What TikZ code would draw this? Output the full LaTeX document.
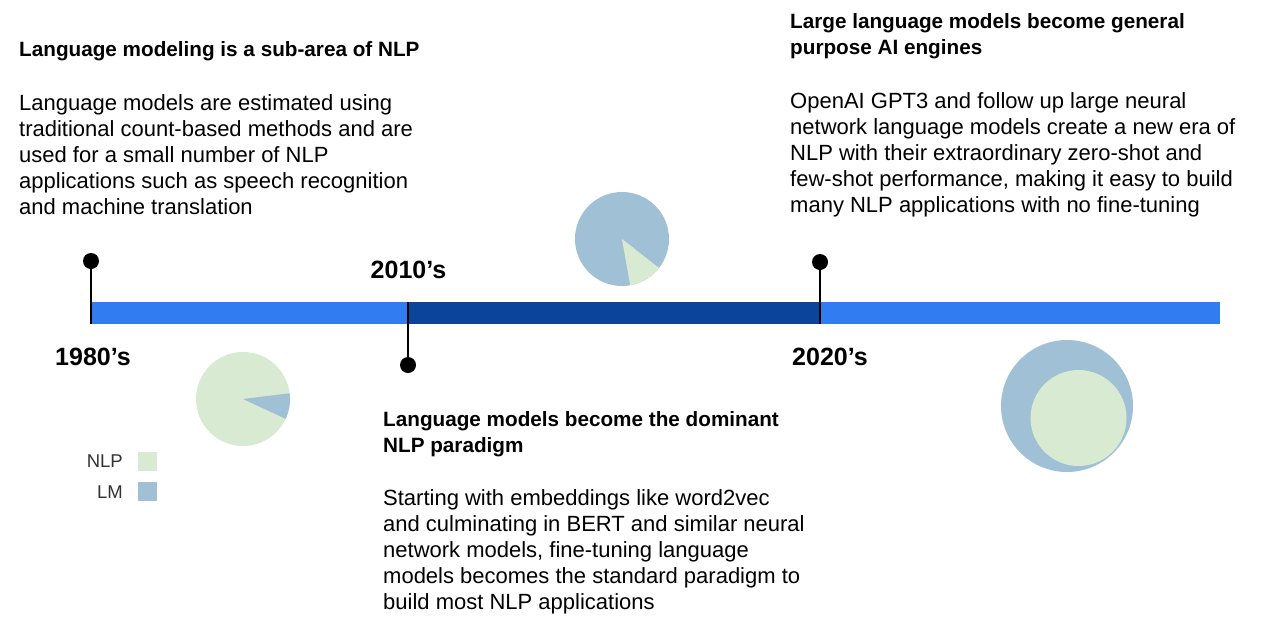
\documentclass[tikz,border=0pt]{standalone}
\usepackage{fontspec}
\setmainfont{Liberation Sans}
\definecolor{nlpc}{HTML}{D9EAD3}
\definecolor{lmc}{HTML}{9FC0D5}
\definecolor{barlight}{HTML}{317CF0}
\definecolor{bardark}{HTML}{0B449B}
\definecolor{legtext}{HTML}{333333}
\begin{document}
\begin{tikzpicture}[x=1pt,y=-1pt,
  titletext/.style={anchor=north west, inner sep=0, align=left, font=\fontsize{20.7}{26}\selectfont\bfseries},
  bodytext/.style={anchor=north west, inner sep=0, align=left, font=\fontsize{22}{26.2}\selectfont},
  yeartext/.style={inner sep=0, font=\fontsize{25}{30}\selectfont\bfseries},
  pindot/.style={circle, fill=black, inner sep=0, minimum size=16},
  stem/.style={line width=1.5, black},
  legtxt/.style={anchor=east, inner sep=0, text=legtext, font=\fontsize{18.5}{22}\selectfont},
  legsq/.style={inner sep=0, minimum size=19}
]
\useasboundingbox (0,0) rectangle (1276,632);

% timeline bar
\fill[barlight] (91,302) rectangle (1220,324);
\fill[bardark] (408,302) rectangle (820,324);

% pins
\node[pindot] (p1) at (91,261) {};
\coordinate (b1) at (91,324);
\draw[stem] (p1.center) -- (b1);
\node[pindot] (p2) at (408,365) {};
\coordinate (b2) at (408,302);
\draw[stem] (p2.center) -- (b2);
\node[pindot] (p3) at (820,262) {};
\coordinate (b3) at (820,324);
\draw[stem] (p3.center) -- (b3);

% year labels
\node[yeartext] (y1) at (93,357) {1980’s};
\node[yeartext] (y2) at (408.5,270) {2010’s};
\node[yeartext] (y3) at (830,357) {2020’s};

% text blocks
\node[titletext] (t1) at (19,41) {Language modeling is a sub-area of NLP};
\node[bodytext] (d1) at (19,94) {Language models are estimated using\\traditional count-based methods and are\\used for a small number of NLP\\applications such as speech recognition\\and machine translation};

\node[titletext] (t3) at (790,13) {Large language models become general\\purpose AI engines};
\node[bodytext] (d3) at (790,92) {OpenAI GPT3 and follow up large neural\\network language models create a new era of\\NLP with their extraordinary zero-shot and\\few-shot performance, making it easy to build\\many NLP applications with no fine-tuning};

\node[titletext] (t2) at (383,411) {Language models become the dominant\\NLP paradigm};
\node[bodytext] (d2) at (383,489) {Starting with embeddings like word2vec\\and culminating in BERT and similar neural\\network models, fine-tuning language\\models becomes the standard paradigm to\\build most NLP applications};

% pie 1980s
\coordinate (c1) at (243,399);
\fill[nlpc] (c1) circle (47);
\fill[lmc] (c1) -- +(-7:47) arc[start angle=-7, end angle=25, radius=47] -- cycle;

% pie 2010s
\coordinate (c2) at (622,239);
\fill[lmc] (c2) circle (47);
\fill[nlpc] (c2) -- +(38:47) arc[start angle=38, end angle=80, radius=47] -- cycle;

% circles 2020s
\coordinate (c3) at (1067,406);
\coordinate (c4) at (1078.5,418);
\fill[lmc] (c3) circle (66);
\fill[nlpc] (c4) circle (48);

% legend
\node[legtxt] (l1) at (123,461) {NLP};
\node[legsq, fill=nlpc] (s1) at (147.5,461.5) {};
\node[legtxt] (l2) at (123,492) {LM};
\node[legsq, fill=lmc] (s2) at (147.5,491.5) {};
\end{tikzpicture}
\end{document}
